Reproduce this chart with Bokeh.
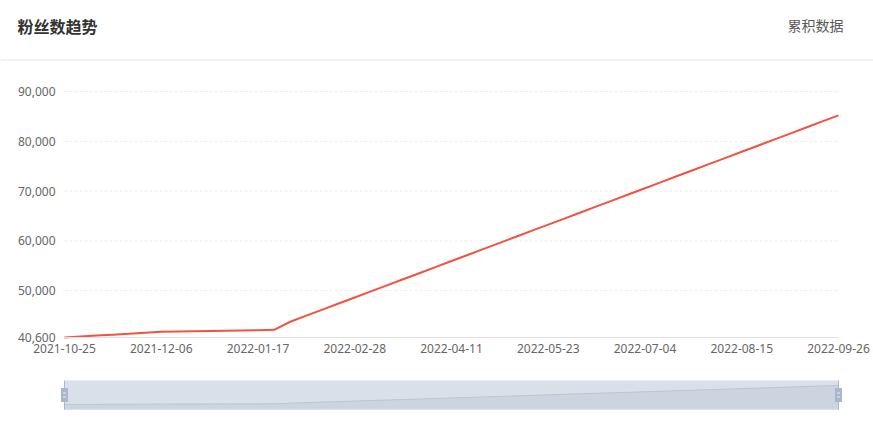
import pandas as pd
from bokeh.plotting import figure
from bokeh.models import Range1d, FixedTicker, NumeralTickFormatter
from bokeh.core.properties import value
from bokeh.embed import file_html
from bokeh.resources import INLINE

# ---------------- data ----------------
title_text = "粉丝数趋势"
mode_text = "累积数据"
start_date = "2021-10-25"
fans = [40600, 40790, 40980, 41170, 41360, 41560, 41750, 41800, 41850, 41900,
        41950, 42000, 42050, 42150, 43760, 44980, 46200, 47420, 48640, 49860,
        51070, 52290, 53510, 54730, 55950, 57170, 58390, 59610, 60830, 62050,
        63270, 64480, 65700, 66920, 68140, 69360, 70580, 71800, 73020, 74240,
        75460, 76680, 77890, 79110, 80330, 81550, 82770, 83990, 85210]
dates = [d.strftime("%Y-%m-%d") for d in pd.date_range(start_date, periods=len(fans), freq="7D")]
label_step = 6
y_ticks = [40600, 50000, 60000, 70000, 80000, 90000]
y_min, y_max = 40600, 90000

idx = list(range(len(fans)))
last = len(fans) - 1

# ---------------- layout (pixels) ----------------
W, H = 873, 432
PLOT_L, PLOT_R = 64, 838          # plot area left/right
PLOT_T, PLOT_B = 91, 337          # plot area top/bottom
SL_T, SL_B = 380, 409             # slider top/bottom
SL_PAD = 5                        # data shadow padding inside slider

ux = (PLOT_R - PLOT_L) / last                 # px per category
uy = (y_max - y_min) / (PLOT_B - PLOT_T)      # value per px
x_start = -PLOT_L / ux
x_end = last + (W - PLOT_R) / ux
y_start = y_min - (H - PLOT_B) * uy
y_end = y_max + PLOT_T * uy


def dx(px):
    return x_start + px / ux


def dy(py):
    return y_end - py * uy


# slider range: data shadow between SL_T+pad and SL_B-pad
s_span = max(fans) - min(fans)
us = s_span / ((SL_B - SL_PAD) - (SL_T + SL_PAD))
s_start = min(fans) - (H - (SL_B - SL_PAD)) * us
s_end = max(fans) + (SL_T + SL_PAD) * us


def sy(py):
    return s_end - py * us


LINE_COLOR = "#f4513f"
TICK_FONT = "Noto Sans"
CJK_FONT = value("Noto Sans CJK SC")

p = figure(width=W, height=H, x_range=Range1d(x_start, x_end), y_range=Range1d(y_start, y_end),
           output_backend="svg", toolbar_location=None, min_border=0)
p.extra_y_ranges = {"slider": Range1d(s_start, s_end)}
p.outline_line_color = None
p.grid.visible = False

# header
p.text(x=[dx(17)], y=[dy(25)], text=[title_text], text_font=CJK_FONT, text_font_size="16px",
       text_font_style="bold", text_color="#333333", text_baseline="middle", text_align="left")
p.text(x=[dx(843)], y=[dy(24)], text=[mode_text], text_font=CJK_FONT, text_font_size="14px",
       text_color="#595959", text_baseline="middle", text_align="right")
p.segment(x0=[dx(0)], y0=[dy(59.5)], x1=[dx(W)], y1=[dy(59.5)], line_color="#e6e6e6", line_width=1)

# grid lines (dashed)
p.segment(x0=[0] * (len(y_ticks) - 1), x1=[last] * (len(y_ticks) - 1),
          y0=y_ticks[1:], y1=y_ticks[1:], line_color="#ededed", line_dash="3 2", line_width=1)

# main line
p.line(x=idx, y=fans, line_color=LINE_COLOR, line_width=2)

# axes
p.xaxis.fixed_location = y_min
p.xaxis.bounds = (0, last)
p.xaxis.ticker = FixedTicker(ticks=list(range(0, len(fans), label_step)))
p.xaxis.major_label_overrides = {i: dates[i] for i in range(0, len(fans), label_step)}
p.xaxis.axis_line_color = "#e3e3e3"
p.xaxis.major_tick_line_color = None
p.xaxis.minor_tick_line_color = None
p.xaxis.major_tick_out = 0
p.xaxis.major_label_standoff = 6
p.xaxis.major_label_text_font = TICK_FONT
p.xaxis.major_label_text_font_size = "12px"
p.xaxis.major_label_text_color = "#666666"

p.yaxis.fixed_location = 0
p.yaxis.ticker = FixedTicker(ticks=y_ticks)
p.yaxis.formatter = NumeralTickFormatter(format="0,0")
p.yaxis.axis_line_color = None
p.yaxis.major_tick_line_color = None
p.yaxis.minor_tick_line_color = None
p.yaxis.major_tick_out = 0
p.yaxis.major_label_standoff = 9
p.yaxis.major_label_text_font = TICK_FONT
p.yaxis.major_label_text_font_size = "12px"
p.yaxis.major_label_text_color = "#666666"

# data-zoom slider
p.quad(left=[0], right=[last], bottom=[sy(SL_B)], top=[sy(SL_T)], fill_color="#d9e0ea",
       line_color=None, y_range_name="slider")
p.varea(x=idx, y1=[sy(SL_B)] * len(fans), y2=fans, fill_color="#ccd4df", y_range_name="slider")
p.line(x=idx, y=fans, line_color="#bcc6d3", line_width=1, y_range_name="slider")
p.segment(x0=[0, last], x1=[0, last], y0=[sy(SL_B)] * 2, y1=[sy(SL_T)] * 2,
          line_color="#a9b6cb", line_width=1, y_range_name="slider")
mid = sy((SL_T + SL_B) / 2)
p.rect(x=[0, last], y=[mid, mid], width=7, height=14, width_units="screen", height_units="screen",
       fill_color="#a9b7cc", line_color=None, y_range_name="slider")
p.rect(x=[0, last, 0, last], y=[mid + 2 * us, mid + 2 * us, mid - 2 * us, mid - 2 * us],
       width=3, height=1, width_units="screen", height_units="screen",
       fill_color="#e8edf3", line_color=None, y_range_name="slider")

open("out.html", "w").write(file_html(p, INLINE))
